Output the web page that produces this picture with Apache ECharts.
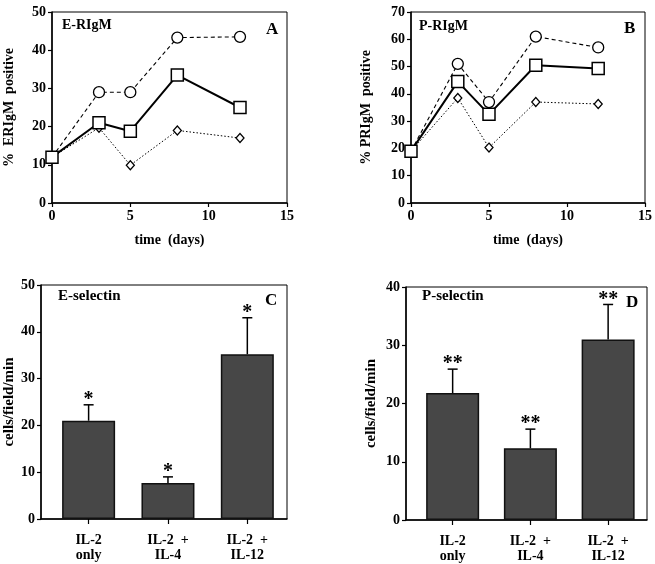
<!DOCTYPE html>
<html><head><meta charset="utf-8">
<script src="https://cdn.jsdelivr.net/npm/echarts@6/dist/echarts.min.js"></script>
<style>html,body{margin:0;padding:0;background:#fff}#c{width:655px;height:564px}</style>
</head><body><div id="c"></div>
<script>
// ---- data ----
const days = [0, 3, 5, 8, 12];
const eCircle = [12, 29, 29, 43.3, 43.5];
const eSquare = [12, 21, 18.8, 33.5, 25];
const eDiamond = [12, 19.7, 9.9, 19, 17];
const pCircle = [19, 51, 37, 61, 57];
const pSquare = [19, 44.5, 32.5, 50.5, 49.3];
const pDiamond = [19, 38.5, 20.3, 37, 36.3];
const treatments = ['IL-2\nonly', 'IL-2  +\nIL-4', 'IL-2  +\nIL-12'];
const eSelMean = [21, 7.7, 35.2];
const eSelErr = [3.4, 1.3, 7.8];
const pSelMean = [21.8, 12.3, 31];
const pSelErr = [4.1, 3.3, 6.0];
const eStars = ['*', '*', '*'];
const pStars = ['**', '**', '**'];

const FONT = 'Liberation Serif';
const chart = echarts.init(document.getElementById('c'), null, {renderer: 'canvas'});
const pair = (xs, ys) => xs.map((x, i) => [x, ys[i]]);

const axisCommon = {
  axisLine: {show: true, onZero: false, lineStyle: {color: '#000', width: 1.5}},
  axisTick: {show: true, inside: false, length: 4, lineStyle: {color: '#000', width: 1.2}},
  axisLabel: {color: '#000', fontFamily: FONT, fontWeight: 'bold', fontSize: 14, margin: 6},
  splitLine: {show: false}
};
const nameStyle = {color: '#000', fontFamily: FONT, fontWeight: 'bold', fontSize: 14};

function lineAxes(gi, yMax) {
  return {
    x: Object.assign({}, axisCommon, {
      type: 'value', gridIndex: gi, min: 0, max: 15, interval: 5,
      name: 'time  (days)', nameLocation: 'middle', nameGap: 30, nameTextStyle: nameStyle
    }),
    y: Object.assign({}, axisCommon, {
      type: 'value', gridIndex: gi, min: 0, max: yMax, interval: 10
    })
  };
}
const aAx = lineAxes(0, 50), bAx = lineAxes(1, 70);
aAx.y.name = '%  ERIgM  positive'; aAx.y.nameLocation = 'middle'; aAx.y.nameGap = 36; aAx.y.nameTextStyle = nameStyle;
bAx.y.name = '% PRIgM  positive'; bAx.y.nameLocation = 'middle'; bAx.y.nameGap = 38; bAx.y.nameTextStyle = nameStyle;

function barAxes(gi, yMax) {
  return {
    x: Object.assign({}, axisCommon, {
      type: 'value', gridIndex: gi, min: -0.6, max: 2.5,
      axisTick: {show: true, length: 5, lineStyle: {color: '#000', width: 1.2}, customValues: [0, 1, 2]},
      axisLabel: Object.assign({}, axisCommon.axisLabel, {
        customValues: [0, 1, 2], margin: 14, lineHeight: 15,
        formatter: v => treatments[Math.round(v)]
      })
    }),
    y: Object.assign({}, axisCommon, {
      type: 'value', gridIndex: gi, min: 0, max: yMax, interval: 10,
      name: 'cells/field/min', nameLocation: 'middle',
      nameTextStyle: Object.assign({}, nameStyle, {fontSize: 15})
    })
  };
}
const cAx = barAxes(2, 50), dAx = barAxes(3, 40);
cAx.y.nameGap = 23; dAx.y.nameGap = 27;

function lineSeries(xi, ys, kind) {
  const styles = {
    circle: {sym: 'circle', size: 11, lw: 1.1, type: [4, 3]},
    square: {sym: 'rect', size: 12, lw: 2, type: 'solid'},
    diamond: {sym: 'diamond', size: [8, 9], lw: 1, type: [1.5, 2]}
  }[kind];
  return {
    type: 'line', xAxisIndex: xi, yAxisIndex: xi, data: pair(days, ys),
    symbol: styles.sym, symbolSize: styles.size, showAllSymbol: true,
    lineStyle: {color: '#000', width: styles.lw, type: styles.type},
    itemStyle: {color: '#fff', borderColor: '#000', borderWidth: kind === 'square' ? 1.5 : 1.3},
    z: kind === 'square' ? 4 : 3, animation: false
  };
}

function barSeries(xi, means) {
  return {
    type: 'bar', xAxisIndex: xi, yAxisIndex: xi, data: means.map((m, i) => [i, m]),
    barWidth: 53, itemStyle: {color: '#474747', borderColor: '#111', borderWidth: 1.5},
    animation: false
  };
}
function errSeries(xi, means, errs, stars) {
  return {
    type: 'custom', xAxisIndex: xi, yAxisIndex: xi,
    data: means.map((m, i) => [i, m, m + errs[i], stars[i]]),
    renderItem: (params, api) => {
      const base = api.coord([api.value(0), api.value(1)]);
      const top = api.coord([api.value(0), api.value(2)]);
      return {type: 'group', children: [
        {type: 'line', shape: {x1: base[0], y1: base[1], x2: top[0], y2: top[1]}, style: {stroke: '#000', lineWidth: 1.5}},
        {type: 'line', shape: {x1: top[0] - 5, y1: top[1], x2: top[0] + 5, y2: top[1]}, style: {stroke: '#000', lineWidth: 1.5}},
        {type: 'text', x: top[0], y: top[1] + 5, style: {text: api.value(3), fill: '#000', font: 'bold 20px ' + FONT, align: 'center', verticalAlign: 'bottom'}}
      ]};
    },
    z: 5, animation: false
  };
}

function panelText(x, y, t, size) {
  return {type: 'text', left: x, top: y, style: {text: t, fill: '#000', font: 'bold ' + size + 'px ' + FONT}};
}

const option = {
  backgroundColor: '#fff',
  animation: false,
  grid: [
    {left: 52, top: 12, width: 235, height: 191, show: true, borderColor: '#000', borderWidth: 1},
    {left: 411, top: 12, width: 236, height: 191, show: true, borderColor: '#000', borderWidth: 1},
    {left: 41, top: 285, width: 246, height: 234, show: true, borderColor: '#000', borderWidth: 1},
    {left: 406, top: 287, width: 241, height: 234, show: true, borderColor: '#000', borderWidth: 1}
  ],
  xAxis: [aAx.x, bAx.x, cAx.x, dAx.x],
  yAxis: [aAx.y, bAx.y, cAx.y, dAx.y],
  series: [
    lineSeries(0, eCircle, 'circle'), lineSeries(0, eDiamond, 'diamond'), lineSeries(0, eSquare, 'square'),
    lineSeries(1, pCircle, 'circle'), lineSeries(1, pDiamond, 'diamond'), lineSeries(1, pSquare, 'square'),
    barSeries(2, eSelMean), errSeries(2, eSelMean, eSelErr, eStars),
    barSeries(3, pSelMean), errSeries(3, pSelMean, pSelErr, pStars)
  ],
  graphic: [
    panelText(62, 18, 'E-RIgM', 14), panelText(266, 21, 'A', 17),
    panelText(419, 19, 'P-RIgM', 14), panelText(624, 20, 'B', 17),
    panelText(58, 289, 'E-selectin', 15), panelText(265, 292, 'C', 17),
    panelText(422, 289, 'P-selectin', 15), panelText(626, 294, 'D', 17)
  ]
};
chart.setOption(option);
</script></body></html>
